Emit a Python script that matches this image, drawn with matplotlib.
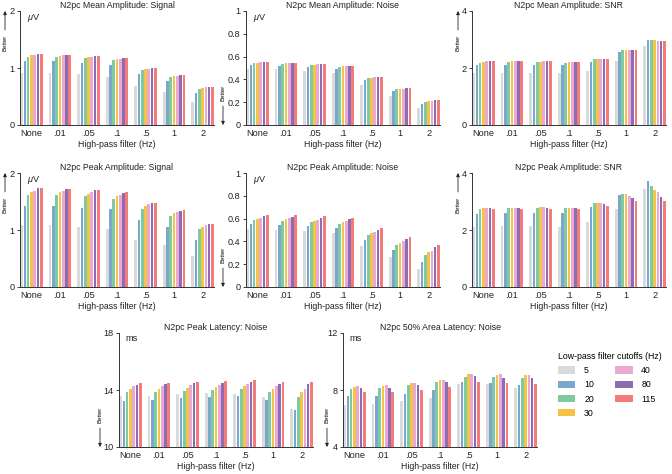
import numpy as np
import matplotlib.pyplot as plt
from matplotlib.patches import Patch

plt.rcParams['font.family'] = ['Liberation Sans', 'DejaVu Sans']
plt.rcParams['mathtext.fontset'] = 'custom'
plt.rcParams['mathtext.it'] = 'Liberation Sans:italic'

highpass = ["None", ".01", ".05", ".1", ".5", "1", "2"]
lowpass = ["5", "10", "20", "30", "40", "80", "115"]
colors = ["#dadada", "#7ba7cf", "#7fcba1", "#f6c444", "#e9a9d4", "#8e6cb4", "#f57b7b"]

# rows = high-pass filter, columns = low-pass cutoff
mean_amp_signal = [
    [0.92, 1.12, 1.20, 1.22, 1.23, 1.24, 1.24],
    [0.91, 1.12, 1.20, 1.21, 1.22, 1.235, 1.235],
    [0.89, 1.09, 1.17, 1.19, 1.195, 1.21, 1.21],
    [0.85, 1.055, 1.14, 1.155, 1.165, 1.17, 1.17],
    [0.69, 0.886, 0.96, 0.98, 0.99, 0.997, 1.0],
    [0.58, 0.765, 0.84, 0.857, 0.863, 0.875, 0.875],
    [0.41, 0.565, 0.636, 0.653, 0.66, 0.665, 0.665],
]
mean_amp_noise = [
    [0.494, 0.526, 0.543, 0.546, 0.549, 0.549, 0.549],
    [0.488, 0.52, 0.537, 0.543, 0.546, 0.546, 0.546],
    [0.477, 0.509, 0.526, 0.529, 0.532, 0.535, 0.535],
    [0.46, 0.494, 0.51, 0.517, 0.52, 0.52, 0.52],
    [0.355, 0.393, 0.41, 0.416, 0.419, 0.422, 0.422],
    [0.254, 0.295, 0.312, 0.318, 0.32, 0.324, 0.324],
    [0.147, 0.185, 0.205, 0.21, 0.214, 0.217, 0.217],
]
mean_amp_snr = [
    [1.83, 2.10, 2.19, 2.21, 2.23, 2.23, 2.23],
    [1.84, 2.10, 2.20, 2.23, 2.23, 2.23, 2.23],
    [1.83, 2.10, 2.20, 2.21, 2.23, 2.23, 2.23],
    [1.82, 2.09, 2.19, 2.20, 2.21, 2.21, 2.21],
    [1.90, 2.20, 2.30, 2.31, 2.32, 2.32, 2.32],
    [2.24, 2.55, 2.64, 2.64, 2.64, 2.64, 2.64],
    [2.78, 2.99, 2.99, 2.97, 2.96, 2.94, 2.93],
]
peak_amp_signal = [
    [1.08, 1.42, 1.62, 1.67, 1.69, 1.73, 1.73],
    [1.08, 1.42, 1.615, 1.67, 1.685, 1.72, 1.725],
    [1.05, 1.39, 1.59, 1.64, 1.66, 1.70, 1.70],
    [1.01, 1.36, 1.55, 1.60, 1.62, 1.65, 1.66],
    [0.83, 1.18, 1.37, 1.42, 1.45, 1.47, 1.48],
    [0.73, 1.05, 1.24, 1.29, 1.31, 1.34, 1.35],
    [0.55, 0.83, 1.01, 1.06, 1.08, 1.11, 1.11],
]
peak_amp_noise = [
    [0.507, 0.551, 0.586, 0.60, 0.609, 0.62, 0.635],
    [0.50, 0.545, 0.58, 0.594, 0.603, 0.617, 0.629],
    [0.49, 0.533, 0.568, 0.583, 0.591, 0.609, 0.62],
    [0.472, 0.516, 0.554, 0.568, 0.577, 0.594, 0.609],
    [0.362, 0.414, 0.458, 0.475, 0.484, 0.504, 0.519],
    [0.264, 0.322, 0.368, 0.388, 0.40, 0.423, 0.44],
    [0.157, 0.223, 0.281, 0.304, 0.319, 0.348, 0.368],
]
peak_amp_snr = [
    [2.11, 2.56, 2.75, 2.77, 2.77, 2.76, 2.72],
    [2.13, 2.59, 2.76, 2.78, 2.78, 2.76, 2.74],
    [2.14, 2.59, 2.77, 2.79, 2.79, 2.77, 2.74],
    [2.12, 2.59, 2.76, 2.78, 2.78, 2.76, 2.72],
    [2.28, 2.79, 2.96, 2.96, 2.94, 2.90, 2.84],
    [2.72, 3.22, 3.28, 3.26, 3.21, 3.12, 3.03],
    [3.44, 3.71, 3.54, 3.42, 3.33, 3.15, 3.01],
]
peak_lat_noise = [
    [13.6, 13.25, 13.85, 14.06, 14.27, 14.38, 14.5],
    [13.6, 13.3, 13.87, 14.08, 14.29, 14.4, 14.5],
    [13.71, 13.41, 13.94, 14.15, 14.34, 14.48, 14.57],
    [13.78, 13.5, 14.01, 14.22, 14.38, 14.5, 14.62],
    [13.73, 13.6, 14.08, 14.29, 14.4, 14.57, 14.71],
    [13.53, 13.27, 13.85, 14.08, 14.25, 14.45, 14.55],
    [12.67, 12.62, 13.53, 13.87, 14.1, 14.45, 14.57],
]
area_lat_noise = [
    [6.95, 7.6, 8.09, 8.2, 8.28, 8.14, 7.84],
    [7.0, 7.6, 8.14, 8.25, 8.35, 8.16, 7.86],
    [7.24, 7.7, 8.35, 8.46, 8.46, 8.35, 8.0],
    [7.47, 8.0, 8.53, 8.69, 8.72, 8.55, 8.23],
    [8.44, 8.55, 8.92, 9.09, 9.09, 8.95, 8.55],
    [8.44, 8.46, 8.88, 9.06, 9.1, 8.86, 8.49],
    [8.12, 8.35, 8.81, 9.02, 9.02, 8.81, 8.42],
]

amp_ticks = [0, 1, 2]
noise_ticks = [0, 0.2, 0.4, 0.6, 0.8, 1]
noise_tick_labels = ["0", "0.2", "0.4", "0.6", "0.8", "1"]
snr_ticks = [0, 2, 4]
peak_lat_ticks = [10, 14, 18]
area_lat_ticks = [4, 8, 12]

FS = 6.3
W_PX, H_PX = 672, 474


def draw_panel(ax, values, title, yticks, ylabels, unit, better, arrow_px):
    values = np.array(values)
    n_hp, n_lp = values.shape
    x = np.arange(n_hp)
    step = 0.8 / n_lp
    for j in range(n_lp):
        ax.bar(x - 0.4 + step * (j + 0.5), values[:, j], width=step * 0.82,
               color=colors[j], linewidth=0)

    ax.set_xlim(-0.4, n_hp - 0.6)
    ax.set_ylim(yticks[0], yticks[-1])
    ax.set_yticks(yticks)
    ax.set_yticklabels(ylabels)
    ax.set_xticks(x)
    ax.set_xticklabels(highpass)
    ax.tick_params(axis="x", length=0, pad=3, labelsize=FS + 0.3, colors="#222222")
    ax.tick_params(axis="y", length=2.5, width=0.6, pad=1.5, labelsize=FS + 0.3,
                   colors="#222222")
    for s in ["top", "right"]:
        ax.spines[s].set_visible(False)
    for s in ["left", "bottom"]:
        ax.spines[s].set_linewidth(0.7)
        ax.spines[s].set_color("#333333")

    ax.set_title(title, fontsize=FS, pad=2.5, color="#222222")
    ax.set_xlabel("High-pass filter (Hz)", fontsize=FS, labelpad=1.5, color="#222222")
    if unit:
        ax.text(0.035, 0.99, unit, transform=ax.transAxes, ha="left", va="top",
                fontsize=FS + 0.3, color="#222222")

    dx = -arrow_px / 194.0
    if better == "up":
        ax.annotate("Better", xy=(dx, 1.0), xytext=(dx, 0.72), xycoords="axes fraction",
                    textcoords="axes fraction", rotation=90, ha="center", va="center",
                    fontsize=4.3, annotation_clip=False,
                    arrowprops=dict(arrowstyle="-|>", lw=0.6, color="#222222",
                                    shrinkA=1.5, shrinkB=0, mutation_scale=5))
    else:
        ax.annotate("Better", xy=(dx, 0.0), xytext=(dx, 0.28), xycoords="axes fraction",
                    textcoords="axes fraction", rotation=90, ha="center", va="center",
                    fontsize=4.3, annotation_clip=False,
                    arrowprops=dict(arrowstyle="-|>", lw=0.6, color="#222222",
                                    shrinkA=1.5, shrinkB=0, mutation_scale=5))


fig = plt.figure(figsize=(W_PX / 100, H_PX / 100), dpi=100)


def add_axes(left_px, bottom_px):
    return fig.add_axes([left_px / W_PX, 1 - bottom_px / H_PX, 194 / W_PX, 114 / H_PX])


mu = r"$\mu$V"
ax1 = add_axes(20, 125)
draw_panel(ax1, mean_amp_signal, "N2pc Mean Amplitude: Signal", amp_ticks,
           [str(t) for t in amp_ticks], mu, "up", 15)
ax2 = add_axes(246, 125)
draw_panel(ax2, mean_amp_noise, "N2pc Mean Amplitude: Noise", noise_ticks,
           noise_tick_labels, mu, "down", 23)
ax3 = add_axes(472, 125)
draw_panel(ax3, mean_amp_snr, "N2pc Mean Amplitude: SNR", snr_ticks,
           [str(t) for t in snr_ticks], None, "up", 14)

ax4 = add_axes(20, 287)
draw_panel(ax4, peak_amp_signal, "N2pc Peak Amplitude: Signal", amp_ticks,
           [str(t) for t in amp_ticks], mu, "up", 15)
ax5 = add_axes(246, 287)
draw_panel(ax5, peak_amp_noise, "N2pc Peak Amplitude: Noise", noise_ticks,
           noise_tick_labels, mu, "down", 23)
ax6 = add_axes(472, 287)
draw_panel(ax6, peak_amp_snr, "N2pc Peak Amplitude: SNR", snr_ticks,
           [str(t) for t in snr_ticks], None, "up", 14)

ax7 = add_axes(119, 447)
draw_panel(ax7, peak_lat_noise, "N2pc Peak Latency: Noise", peak_lat_ticks,
           [str(t) for t in peak_lat_ticks], "ms", "down", 19)
ax8 = add_axes(343, 447)
draw_panel(ax8, area_lat_noise, "N2pc 50% Area Latency: Noise", area_lat_ticks,
           [str(t) for t in area_lat_ticks], "ms", "down", 16)

handles = [Patch(facecolor=c, edgecolor="none", label=l) for c, l in zip(colors, lowpass)]
fig.legend(handles=handles, title="Low-pass filter cutoffs (Hz)", ncol=2,
           loc="upper left", bbox_to_anchor=(550 / W_PX, 1 - 344 / H_PX),
           frameon=False, fontsize=FS, title_fontsize=FS, handlelength=2.0,
           handleheight=0.9, labelspacing=0.6, columnspacing=2.4, handletextpad=1.0,
           alignment="left")

fig.savefig("out.png", dpi=100)
